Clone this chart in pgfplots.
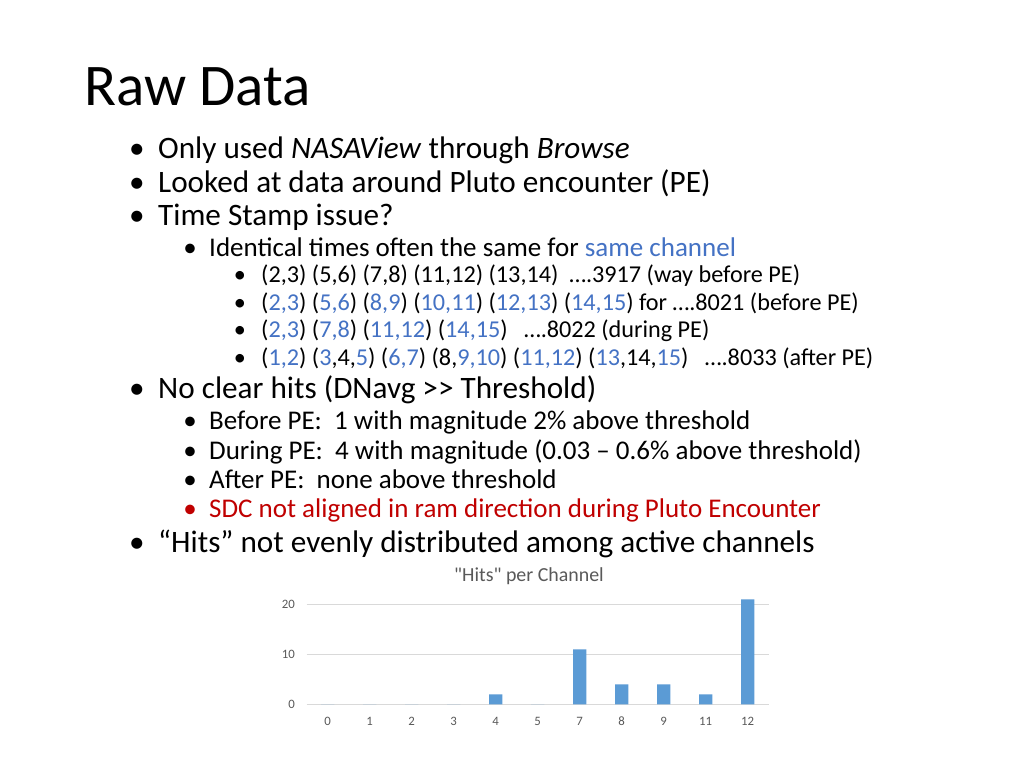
\documentclass[border=0pt]{standalone}
\usepackage{fontspec}
\setmainfont{Carlito}
\newfontfamily\calfont{Carlito}
\usepackage{pgfplots}
\pgfplotsset{compat=1.18}

\definecolor{txtblue}{HTML}{4472C4}
\definecolor{txtred}{HTML}{C00000}
\definecolor{barblue}{HTML}{5B9BD5}
\definecolor{gridgray}{HTML}{D9D9D9}
\definecolor{labgray}{HTML}{595959}
\newcommand\B[1]{\textcolor{txtblue}{#1}}

% hits per channel, channels listed in the order of the x axis
\pgfplotstableread{
idx hits
0   0
1   0
2   0
3   0
4   2
5   0
6   11
7   4
8   4
9   2
10  21
}\hitsdata

\tikzset{
  ttl/.style={anchor=base west, inner sep=0, font=\calfont\fontsize{59bp}{66bp}\selectfont},
  l1/.style={anchor=base west, inner sep=0, font=\calfont\fontsize{31.2bp}{34bp}\selectfont},
  l2/.style={anchor=base west, inner sep=0, font=\calfont\fontsize{27bp}{30bp}\selectfont},
  l3/.style={anchor=base west, inner sep=0, font=\calfont\fontsize{24.2bp}{27bp}\selectfont},
  b1/.style={anchor=base, inner sep=0, font=\calfont\fontsize{31.2bp}{34bp}\selectfont},
  b2/.style={anchor=base, inner sep=0, font=\calfont\fontsize{27bp}{30bp}\selectfont},
  b3/.style={anchor=base, inner sep=0, font=\calfont\fontsize{24.2bp}{27bp}\selectfont},
}

\begin{document}
\begin{tikzpicture}[x=1bp,y=1bp]
\useasboundingbox (0,0) rectangle (1024,-768);
\fill[white] (0,0) rectangle (1024,-768);

\node[ttl] at (84,-105) {Raw Data};

\node[b1] at (137,-158) {•};
\node[l1] at (158,-158) {Only used \textit{NASAView} through \textit{Browse}};
\node[b1] at (137,-192) {•};
\node[l1] at (158,-192) {Looked at data around Pluto encounter (PE)};
\node[b1] at (137,-225) {•};
\node[l1] at (158,-225) {Time Stamp issue?};

\node[b2] at (190,-256) {•};
\node[l2] at (209,-256) {Identical times often the same for \B{same channel}};

\node[b3] at (240,-282) {•};
\node[l3] at (261,-282) {(2,3) (5,6) (7,8) (11,12) (13,14)\ \ ….3917 (way before PE)};
\node[b3] at (240,-310) {•};
\node[l3] at (261,-310) {(\B{2,3}) (\B{5,6}) (\B{8,9}) (\B{10,11}) (\B{12,13}) (\B{14,15}) for ….8021 (before PE)};
\node[b3] at (240,-337) {•};
\node[l3] at (261,-337) {(\B{2,3}) (\B{7,8}) (\B{11,12}) (\B{14,15})\ \ \ ….8022 (during PE)};
\node[b3] at (240,-365) {•};
\node[l3] at (261,-365) {(\B{1,2}) (\B{3},4,\B{5}) (\B{6,7}) (8,\B{9,10}) (\B{11,12}) (\B{13},14,\B{15})\ \ \ ….8033 (after PE)};

\node[b1] at (137,-398) {•};
\node[l1] at (158,-398) {No clear hits (DNavg >> Threshold)};

\node[b2] at (190,-429) {•};
\node[l2] at (209,-429) {Before PE:\ \ 1 with magnitude 2\% above threshold};
\node[b2] at (190,-459) {•};
\node[l2] at (209,-459) {During PE:\ \ 4 with magnitude (0.03 – 0.6\% above threshold)};
\node[b2] at (190,-488) {•};
\node[l2] at (209,-488) {After PE:\ \ none above threshold};
\node[b2, text=txtred] at (190,-517) {•};
\node[l2, text=txtred] at (209,-517) {SDC not aligned in ram direction during Pluto Encounter};

\node[b1] at (137,-552) {•};
\node[l1] at (158,-552) {“Hits” not evenly distributed among active channels};

\node[anchor=base, inner sep=0, text=labgray, font=\calfont\fontsize{19.9bp}{22bp}\selectfont]
  at (529,-581) {"Hits" per Channel};

\begin{axis}[
  at={(306.7bp,-704.3bp)}, anchor=south west,
  scale only axis,
  width=462bp, height=110bp,
  xmin=-0.5, xmax=10.5,
  ymin=0, ymax=22,
  axis line style={draw=none},
  ymajorgrids,
  grid style={gridgray, line width=1bp},
  major tick length=0pt,
  xtick={0,...,10},
  xticklabels={0,1,2,3,4,5,7,8,9,11,12},
  ytick={0,10,20},
  /pgf/number format/assume math mode=true,
  tick label style={text=labgray, inner sep=0pt, font=\calfont\fontsize{12.8bp}{14bp}\selectfont},
  xticklabel style={anchor=base, yshift=-21.4bp},
  yticklabel style={anchor=east, xshift=-11.7bp},
  ybar, bar width=13.3bp,
]
\addplot[fill=barblue, draw=none, bar shift=0pt] table[x=idx, y=hits] {\hitsdata};
\end{axis}
\end{tikzpicture}
\end{document}
